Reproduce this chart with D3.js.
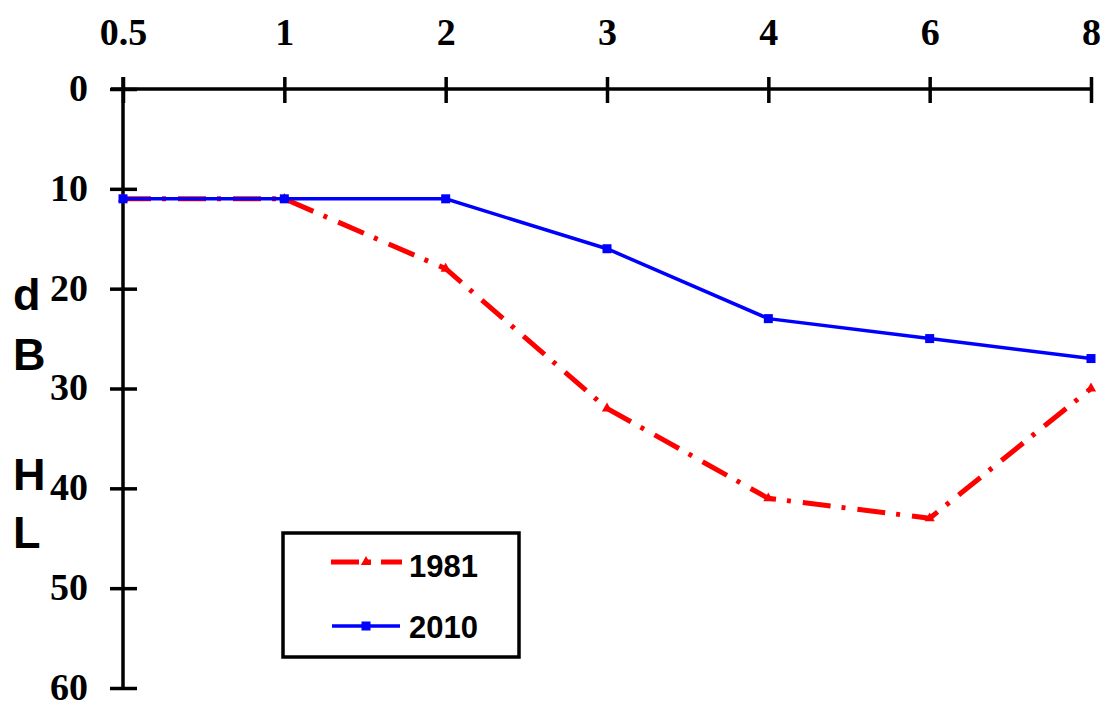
<!DOCTYPE html>
<html>
<head>
<meta charset="utf-8">
<script src="https://cdn.jsdelivr.net/npm/d3@7"></script>
<style>
body { margin: 0; background: #fff; }
</style>
</head>
<body>
<div id="chart"></div>
<script>
var freqs = ["0.5", "1", "2", "3", "4", "6", "8"];
var yTicks = [0, 10, 20, 30, 40, 50, 60];
var hl1981 = [11, 11, 18, 32, 41, 43, 30];
var hl2010 = [11, 11, 11, 16, 23, 25, 27];
var yLetters = ["d", "B", "H", "L"];

var svg = d3.select("#chart")
.append("svg")
.attr("width", 1107)
.attr("height", 704);

var xScale = d3.scalePoint()
.domain(freqs)
.range([123, 1091]);

var yScale = d3.scaleLinear()
.domain([0, 60])
.range([89, 688]);

// top axis: labels only, ticks drawn across the line below
var xAxis = svg.append("g")
.attr("transform", "translate(0," + yScale(0) + ")")
.call(d3.axisTop(xScale).tickSize(0).tickPadding(44));
xAxis.select(".domain").remove();
xAxis.selectAll("text")
.style("font-family", "'Liberation Serif', serif")
.style("font-weight", "bold")
.style("font-size", "38px")
.attr("fill", "#000");
xAxis.selectAll(".tick").append("line")
.attr("y1", -12).attr("y2", 14)
.attr("stroke", "#000").attr("stroke-width", 3.5);

var yAxis = svg.append("g")
.attr("transform", "translate(" + xScale("0.5") + ",0)")
.call(d3.axisLeft(yScale).tickValues(yTicks).tickSize(0).tickPadding(35));
yAxis.select(".domain").remove();
yAxis.selectAll("text")
.style("font-family", "'Liberation Serif', serif")
.style("font-weight", "bold")
.style("font-size", "38px")
.attr("dy", "0.3em")
.attr("fill", "#000");
yAxis.selectAll(".tick").append("line")
.attr("x1", -13).attr("x2", 14)
.attr("stroke", "#000").attr("stroke-width", 3.5);

// axis lines
svg.append("line")
.attr("x1", 111).attr("x2", xScale("8"))
.attr("y1", yScale(0)).attr("y2", yScale(0))
.attr("stroke", "#000").attr("stroke-width", 3.5);
svg.append("line")
.attr("x1", xScale("0.5")).attr("x2", xScale("0.5"))
.attr("y1", 77).attr("y2", yScale(60))
.attr("stroke", "#000").attr("stroke-width", 3.5);

// y title, one letter per line
var letterY = [310, 370, 490, 548];
svg.append("g")
.selectAll("text")
.data(yLetters)
.enter()
.append("text")
.attr("x", 13)
.attr("y", function (d, i) { return letterY[i]; })
.style("font-family", "'Liberation Sans', Arial, sans-serif")
.style("font-weight", "bold")
.style("font-size", "45px")
.text(function (d) { return d; });

var line = d3.line()
.x(function (d, i) { return xScale(freqs[i]); })
.y(function (d) { return yScale(d); });

// 1981
svg.append("path")
.datum(hl1981)
.attr("d", line)
.attr("fill", "none")
.attr("stroke", "#ff0000")
.attr("stroke-width", 5)
.attr("stroke-dasharray", "28,11,4,12");
svg.append("g")
.selectAll("path")
.data(hl1981)
.enter()
.append("path")
.attr("d", d3.symbol().type(d3.symbolTriangle).size(45))
.attr("transform", function (d, i) { return "translate(" + xScale(freqs[i]) + "," + yScale(d) + ")"; })
.attr("fill", "#ff0000");

// 2010
svg.append("path")
.datum(hl2010)
.attr("d", line)
.attr("fill", "none")
.attr("stroke", "#0000ff")
.attr("stroke-width", 3.5);
svg.append("g")
.selectAll("rect")
.data(hl2010)
.enter()
.append("rect")
.attr("x", function (d, i) { return xScale(freqs[i]) - 4.5; })
.attr("y", function (d) { return yScale(d) - 4.5; })
.attr("width", 9)
.attr("height", 9)
.attr("fill", "#0000ff");

// legend
var legend = svg.append("g");
legend.append("rect")
.attr("x", 283).attr("y", 533)
.attr("width", 236).attr("height", 124)
.attr("fill", "#fff")
.attr("stroke", "#000").attr("stroke-width", 3.5);
legend.append("line")
.attr("x1", 331).attr("x2", 402).attr("y1", 562).attr("y2", 562)
.attr("stroke", "#ff0000").attr("stroke-width", 5)
.attr("stroke-dasharray", "28,8,4,10");
legend.append("path")
.attr("d", d3.symbol().type(d3.symbolTriangle).size(45))
.attr("transform", "translate(366,562)")
.attr("fill", "#ff0000");
legend.append("line")
.attr("x1", 332).attr("x2", 400).attr("y1", 626).attr("y2", 626)
.attr("stroke", "#0000ff").attr("stroke-width", 3.5);
legend.append("rect")
.attr("x", 361.5).attr("y", 621.5).attr("width", 9).attr("height", 9)
.attr("fill", "#0000ff");
legend.selectAll("text")
.data(["1981", "2010"])
.enter()
.append("text")
.attr("x", 409)
.attr("y", function (d, i) { return 577 + i * 61; })
.style("font-family", "'Liberation Sans', Arial, sans-serif")
.style("font-weight", "bold")
.style("font-size", "31px")
.text(function (d) { return d; });
</script>
</body>
</html>
